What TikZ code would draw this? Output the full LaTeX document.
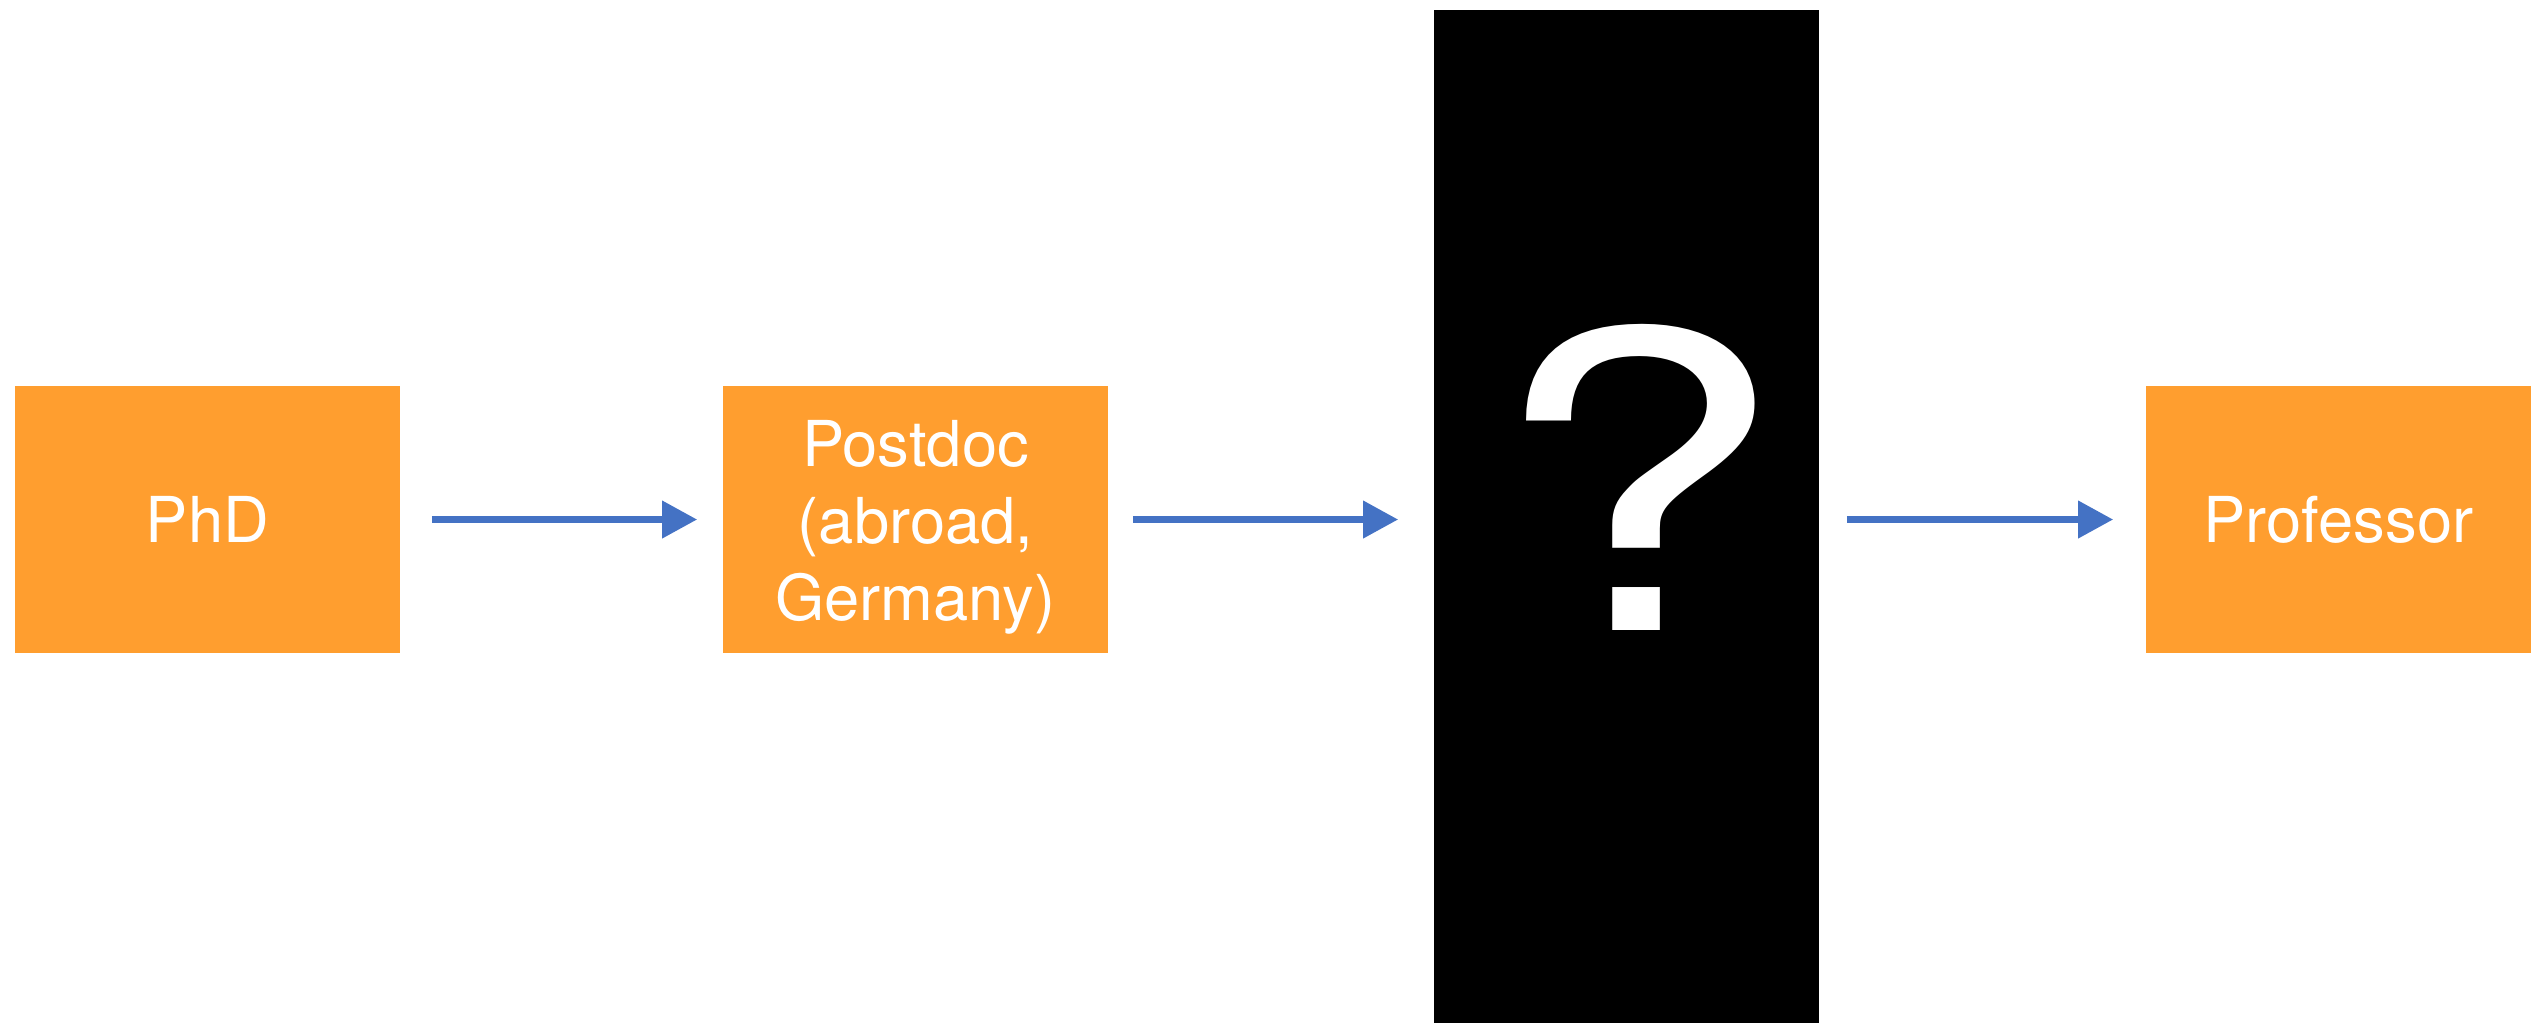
\documentclass[tikz,border=0pt]{standalone}
\usepackage{fontspec}
\setmainfont{TeX Gyre Heros}
\usetikzlibrary{arrows.meta}
\definecolor{boxorange}{HTML}{FF9E2F}
\definecolor{arrowblue}{HTML}{4472C4}
\begin{document}
\begin{tikzpicture}[x=0.01cm,y=-0.01cm,
  stage/.style={rectangle, fill=boxorange, text=white, minimum width=3.85cm,
    minimum height=2.67cm, inner sep=0pt, align=center,
    font=\fontsize{18}{21.9}\selectfont},
  flow/.style={draw=arrowblue, line width=0.07cm,
    -{Triangle[length=0.35cm, width=0.36cm]}}]
\useasboundingbox (0,0) rectangle (2542,1023);
\node[stage] (phd) at (207.5,519.5) {PhD};
\node[stage] (postdoc) at (915.5,519.5) {\rule{0pt}{0.62cm}Postdoc\\(abroad,\\Germany)};
\node[rectangle, fill=black, minimum width=3.85cm, minimum height=10.13cm, inner sep=0pt]
  (unknown) at (1626.5,516.5) {};
\node[text=white, inner sep=0pt, anchor=base, font=\fontsize{117.5}{117.5}\selectfont]
  (qmark) at (1637,630) {\scalebox{1.28}[1]{?}};
\node[stage] (prof) at (2338.5,519.5) {Professor};
\draw[flow, shorten <=0.31cm, shorten >=0.25cm] (phd.east) -- (postdoc.west);
\draw[flow, shorten <=0.24cm, shorten >=0.35cm] (postdoc.east) -- (postdoc.east -| unknown.west);
\draw[flow, shorten <=0.27cm, shorten >=0.32cm] (prof.west -| unknown.east) -- (prof.west);
\end{tikzpicture}
\end{document}
